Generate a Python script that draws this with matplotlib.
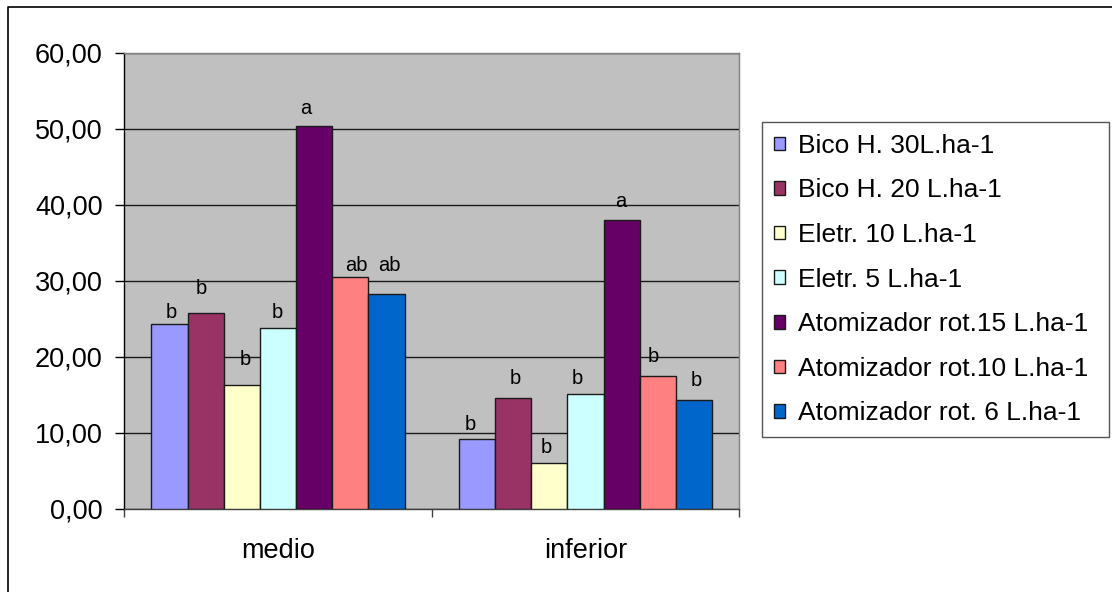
import matplotlib
matplotlib.use("Agg")
import matplotlib.pyplot as plt
from matplotlib.lines import Line2D
from matplotlib.ticker import FixedLocator, FuncFormatter
import numpy as np

plt.rcParams['font.family'] = ['Liberation Sans', 'DejaVu Sans']

# Data
categories = ["medio", "inferior"]
series_names = [
    "Bico H. 30L.ha-1",
    "Bico H. 20 L.ha-1",
    "Eletr. 10 L.ha-1",
    "Eletr. 5 L.ha-1",
    "Atomizador rot.15 L.ha-1",
    "Atomizador rot.10 L.ha-1",
    "Atomizador rot. 6 L.ha-1",
]
values_medio = [24.3, 25.7, 16.2, 23.7, 50.3, 30.4, 28.2]
values_inferior = [9.2, 14.6, 6.0, 15.1, 37.9, 17.4, 14.3]
letters_medio = ["b", "b", "b", "b", "a", "ab", "ab"]
letters_inferior = ["b", "b", "b", "b", "a", "b", "b"]
y_ticks = [0, 10, 20, 30, 40, 50, 60]

# Styling
colors = ["#9999FF", "#993366", "#FFFFCC", "#CCFFFF", "#660066", "#FF8080", "#0066CC"]
# label nudges (pixels) relative to each bar top
nudge_medio = [(2, 11), (-4, 25), (3, 26), (-1, 16), (-8, 18), (6, 12), (3, 29)]
nudge_inferior = [(-7, 14), (2, 19), (-3, 15), (-8, 15), (-1, 19), (-5, 20), (2, 19)]

W, H = 1112, 592
fig = plt.figure(figsize=(W / 100, H / 100), dpi=100)
ax = fig.add_axes([124.3 / W, 1 - 508.5 / H, (739.3 - 124.3) / W, (508.5 - 52.5) / H])
ax.set_facecolor("#C0C0C0")

x = np.arange(len(categories))
n = len(series_names)
bw = 1 / 8.5
data = np.array([values_medio, values_inferior])
letters = [letters_medio, letters_inferior]
nudges = [nudge_medio, nudge_inferior]

handles = []
for i in range(n):
    xs = x + (i - (n - 1) / 2) * bw
    bars = ax.bar(xs, data[:, i], width=bw, color=colors[i], edgecolor="#1a1a1a",
                  linewidth=1.0, zorder=3, label=series_names[i])
    handles.append(bars)
    for j, rect in enumerate(bars):
        dx, dy = nudges[j][i]
        ax.annotate(letters[j][i], (rect.get_x() + rect.get_width() / 2, rect.get_height()),
                    xytext=(dx, dy), textcoords="offset pixels", ha="center", va="center",
                    fontsize=14.5, zorder=4)

ax.set_xlim(-0.5, 1.5)
ax.set_ylim(0, 60)
ax.yaxis.set_major_locator(FixedLocator(y_ticks))
ax.yaxis.set_major_formatter(FuncFormatter(lambda v, p: f"{v:.2f}".replace(".", ",")))
ax.yaxis.grid(True, color="#1a1a1a", linewidth=1.0, zorder=1)
ax.set_axisbelow(True)

ax.set_xticks(x)
ax.set_xticklabels(categories)
ax.set_xticks([-0.5, 0.5, 1.5], minor=True)
ax.tick_params(axis="x", which="major", length=0, pad=21, labelsize=19.5)
ax.tick_params(axis="x", which="minor", length=6, width=1, direction="out", color="#404040")
ax.tick_params(axis="y", which="major", length=6.5, width=1, direction="out", pad=9, labelsize=19.5)

for s in ["top", "right"]:
    ax.spines[s].set_color("#808080")
ax.spines["left"].set_color("black")
ax.spines["bottom"].set_color("#404040")
for s in ax.spines.values():
    s.set_linewidth(1.0)

# chart frame (left and top edges)
fig.add_artist(Line2D([8 / W, 8 / W, 1.01], [-0.01, 1 - 7 / H, 1 - 7 / H],
                      transform=fig.transFigure, color="black", linewidth=1.2))

leg = fig.legend(handles=handles, loc="upper left",
                 bbox_to_anchor=(762 / W, 1 - 122 / H - 0.01, (1109 - 762) / W, 0.01),
                 mode="expand", fontsize=19, frameon=True, fancybox=False,
                 handlelength=0.42, handleheight=0.42, handletextpad=0.5,
                 labelspacing=0.78, borderpad=0.45, borderaxespad=0)
leg.get_frame().set_edgecolor("#555555")
leg.get_frame().set_linewidth(1.0)
leg.get_frame().set_alpha(1)

fig.savefig("out.png", dpi=100)
